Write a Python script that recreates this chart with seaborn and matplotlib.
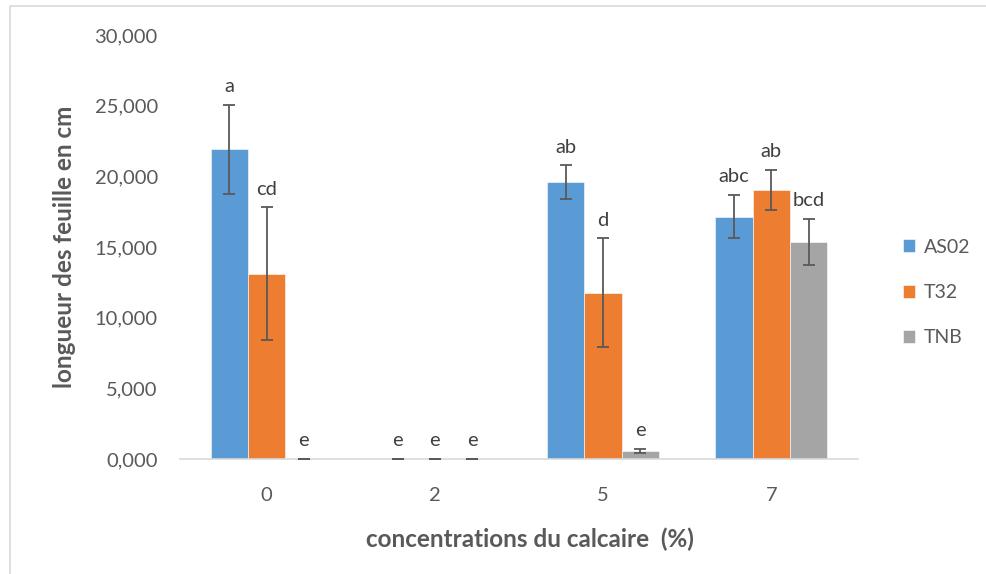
import matplotlib
matplotlib.use("Agg")
import matplotlib.pyplot as plt
import seaborn as sns
import pandas as pd
import numpy as np
from matplotlib.patches import Rectangle

# ---- data (cm) ----
categories = ["0", "2", "5", "7"]
series = ["AS02", "T32", "TNB"]
as02_vals = [21.9, 0.0, 19.6, 17.15]
t32_vals = [13.1, 0.0, 11.75, 19.05]
tnb_vals = [0.0, 0.0, 0.57, 15.35]
as02_err = [3.15, 0.0, 1.18, 1.52]
t32_err = [4.70, 0.0, 3.86, 1.42]
tnb_err = [0.0, 0.0, 0.14, 1.63]
as02_letters = ["a", "e", "ab", "abc"]
t32_letters = ["cd", "e", "d", "ab"]
tnb_letters = ["e", "e", "e", "bcd"]
y_ticks = [0, 5, 10, 15, 20, 25, 30]

colors = ["#5B9BD5", "#ED7D31", "#A5A5A5"]
vals = [as02_vals, t32_vals, tnb_vals]
errs = [as02_err, t32_err, tnb_err]
letters = [as02_letters, t32_letters, tnb_letters]

rows = []
for s, v in zip(series, vals):
    for c, x in zip(categories, v):
        rows.append({"conc": c, "serie": s, "val": x})
df = pd.DataFrame(rows)

sns.set_theme(style="white")
plt.rcParams["font.family"] = ["Lato", "DejaVu Sans"]

fig = plt.figure(figsize=(9.87, 5.74), dpi=100)
W, H = 987, 574
ax = fig.add_axes([180 / W, 1 - 459 / H, (858 - 180) / W, (459 - 35) / H])

sns.barplot(data=df, x="conc", y="val", hue="serie", order=categories,
            hue_order=series, palette=colors, width=0.664, errorbar=None,
            edgecolor="white", linewidth=0.4, ax=ax, saturation=1)

for cont, e, labs in zip(ax.containers, errs, letters):
    xs = [p.get_x() + p.get_width() / 2 for p in cont.patches]
    hs = [p.get_height() for p in cont.patches]
    ax.errorbar(xs, hs, yerr=e, fmt="none", ecolor="#595959",
                elinewidth=1.3, capsize=4, capthick=1.3, zorder=5)
    for x, h, ee, lab in zip(xs, hs, e, labs):
        ax.annotate(lab, (x, h + ee), xytext=(0, 7), textcoords="offset points",
                    ha="center", va="bottom", fontsize=14.5, color="#404040")

ax.set_ylim(0, 30)
ax.set_yticks(y_ticks)
ax.set_yticklabels([f"{t:.3f}".replace(".", ",") for t in y_ticks])
ax.tick_params(axis="both", length=0, labelsize=14.5, labelcolor="#595959")
ax.tick_params(axis="y", pad=16)
ax.tick_params(axis="x", pad=20)
for s in ["left", "right", "top"]:
    ax.spines[s].set_visible(False)
ax.spines["bottom"].set_color("#D9D9D9")
ax.spines["bottom"].set_linewidth(1.2)

ax.set_ylabel("longueur des feuille en cm", fontsize=17.5, fontweight="bold",
              color="#595959")
ax.yaxis.set_label_coords((76 - 180) / 678, 0.5)
ax.set_xlabel("concentrations du calcaire  (%)", fontsize=17.5,
              fontweight="bold", color="#595959")
ax.xaxis.set_label_coords((530 - 180) / 678, (459 - 528) / 424)

ax.legend(loc="center left", bbox_to_anchor=(893 / W, 1 - 292.5 / H),
          bbox_transform=fig.transFigure, frameon=False, fontsize=14,
          handlelength=0.65, handleheight=0.65, handletextpad=0.45,
          labelspacing=1.45, borderpad=0, labelcolor="#595959")

# outer chart frame
fig.patches.append(Rectangle((10.5 / W, -0.1), 1.2, 1 - 6 / H + 0.1,
                             transform=fig.transFigure, fill=False,
                             edgecolor="#D9D9D9", linewidth=1.2))

fig.savefig("out.png", dpi=100)
